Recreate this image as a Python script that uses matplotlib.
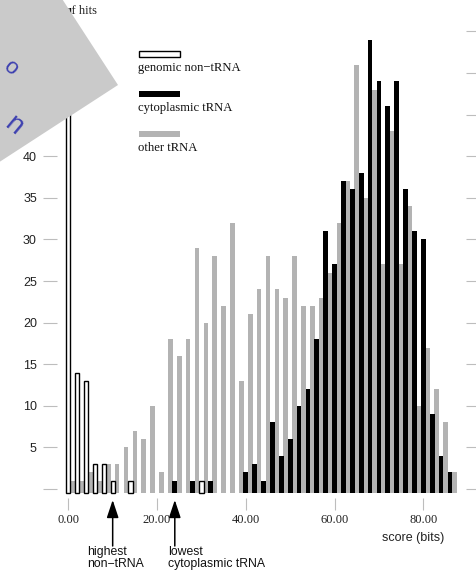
import numpy as np
import matplotlib
matplotlib.use("Agg")
import matplotlib.pyplot as plt
from matplotlib.patches import Polygon, Rectangle

# ---------------- data ----------------
white_scores = [0, 2, 4, 6, 8, 10, 14, 30]
white_counts = [60, 14, 13, 3, 3, 1, 1, 1]

black_scores = [24, 28, 32, 40, 42, 44, 46, 48, 50, 52, 54, 56, 58, 60, 62, 64,
                66, 68, 70, 72, 74, 76, 78, 80, 82, 84, 86]
black_counts = [1, 1, 1, 2, 3, 1, 8, 4, 6, 10, 12, 18, 31, 27, 37, 36,
                38, 54, 49, 46, 49, 36, 31, 30, 9, 4, 2]

gray_scores = [1, 3, 5, 7, 9, 11, 13, 15, 17, 19, 21, 23, 25, 27, 29, 31, 33, 35,
               37, 39, 41, 43, 45, 47, 49, 51, 53, 55, 57, 59, 61, 63, 65, 67, 69,
               71, 73, 75, 77, 79, 81, 83, 85, 87]
gray_counts = [1, 1, 2, 1, 3, 3, 5, 7, 6, 10, 2, 18, 16, 18, 29, 20, 28, 22,
               32, 13, 21, 24, 28, 24, 23, 28, 22, 22, 23, 26, 32, 37, 51, 35, 48,
               27, 43, 27, 34, 10, 17, 12, 8, 2]

xticks = [0, 20, 40, 60, 80]
xticklabels = ["0.00", "20.00", "40.00", "60.00", "80.00"]
yticks = [0, 5, 10, 15, 20, 25, 30, 35, 40, 45, 50, 55]
yticklabels = ["", "5", "10", "15", "20", "25", "30", "35", "40", "45", "50", "55"]

legend_labels = ["genomic non\u2212tRNA", "cytoplasmic tRNA", "other tRNA"]
highest_nontrna = 10
lowest_cyto = 24

# ---------------- layout helpers ----------------
W, H = 476, 574
def fx(x):
    return x / W
def fy(y):
    return 1 - y / H

SERIF = ["Liberation Serif", "DejaVu Serif"]
SANS = ["Liberation Sans", "DejaVu Sans"]
GRAY = "#b3b3b3"
TICKC = "#bdbdbd"

fig = plt.figure(figsize=(W / 100, H / 100), dpi=100)
ax = fig.add_axes([fx(57), fy(498), (466 - 57) / W, (498 - 8) / H])
ax.set_xlim((57 - 68.3) / 4.4375, (466 - 68.3) / 4.4375)
ax.set_ylim((489 - 498) / 8.32, (489 - 8) / 8.32)

base = -0.45
bw = 1.05
ax.bar(gray_scores, np.array(gray_counts) - base, bottom=base, width=bw,
       color=GRAY, linewidth=0, zorder=2)
ax.bar(black_scores, np.array(black_counts) - base, bottom=base, width=bw,
       color="black", linewidth=0, zorder=3)
ax.bar(white_scores, np.array(white_counts) - base, bottom=base, width=bw * 0.9,
       facecolor="white", edgecolor="black", linewidth=1.0, zorder=4)

for s in ax.spines.values():
    s.set_visible(False)

ax.set_xticks(xticks)
ax.set_xticklabels(xticklabels)
ax.set_yticks(yticks)
ax.set_yticklabels(yticklabels)
ax.tick_params(axis="x", direction="out", length=8.6, width=0.8, color=TICKC,
               pad=3.0, labelsize=9, labelcolor="#222222")
for t in ax.get_xticklabels():
    t.set_fontfamily(SERIF)
ax.tick_params(axis="y", direction="out", length=10, width=0.8, color=TICKC,
               pad=4.5, labelsize=9, labelcolor="#222222", right=True, labelright=False)
for t in ax.get_yticklabels():
    t.set_fontfamily(SANS)
for tk in ax.yaxis.get_major_ticks():
    tk.tick2line.set_markersize(7.9)

# axis labels
fig.text(fx(97), fy(11), "number of hits", ha="right", va="center",
         fontsize=9, family=SERIF, color="#222222")
fig.text(fx(413), fy(538), "score (bits)", ha="center", va="center",
         fontsize=9, family=SANS, color="#222222")

# arrows
for xv, label in [(highest_nontrna, "highest\nnon\u2212tRNA"),
                  (lowest_cyto, "lowest\ncytoplasmic tRNA")]:
    ax.annotate("", xy=(xv, H - 500), xytext=(xv, H - 546),
                xycoords=("data", "figure pixels"),
                textcoords=("data", "figure pixels"),
                annotation_clip=False,
                arrowprops=dict(arrowstyle="-|>,head_length=0.6,head_width=0.2",
                                mutation_scale=18, color="black", lw=1.1,
                                shrinkA=0, shrinkB=0))
    xpix = ax.transData.transform((xv, 0))[0]
    fig.text(fx(xpix - 26 if xv == highest_nontrna else xpix - 7), fy(546), label,
             ha="left", va="top", fontsize=8.8, family=SANS,
             linespacing=0.95, color="#111111")

# legend (swatch above text)
swatches = [dict(facecolor="white", edgecolor="black", lw=1.0),
            dict(facecolor="black", edgecolor="black", lw=0),
            dict(facecolor=GRAY, edgecolor=GRAY, lw=0)]
for i, (lab, st) in enumerate(zip(legend_labels, swatches)):
    y0 = 51.5 + 40 * i
    fig.patches.append(Rectangle((fx(138.5), fy(y0 + 5)), 41.5 / W, 5 / H,
                                 transform=fig.transFigure, zorder=5, **st))
    fig.text(fx(138.5), fy(y0 + 16.5), lab, ha="left", va="center",
             fontsize=9.1, family=SERIF, color="#111111")

# gray sticker overlay with blue lettering
th = np.deg2rad(33)
C = np.array([118.0, 85.0])
u = np.array([-np.sin(th), -np.cos(th)])
w = np.array([-np.cos(th), np.sin(th)])
pts = [C, C + 300 * u, C + 300 * u + 300 * w, C + 300 * w]
poly = Polygon([(fx(p[0]), fy(p[1])) for p in pts], closed=True,
               transform=fig.transFigure, facecolor="#cacaca", edgecolor="none",
               zorder=20)
fig.add_artist(poly)
fig.text(fx(10), fy(68), "o", rotation=-40, ha="center", va="center",
         fontsize=16, color="#3d40b0", family=SANS, zorder=21)
fig.text(fx(14), fy(126), "n", rotation=-40, ha="center", va="center",
         fontsize=20, color="#3d40b0", family=SANS, zorder=21)

fig.savefig("out.png", dpi=100)
